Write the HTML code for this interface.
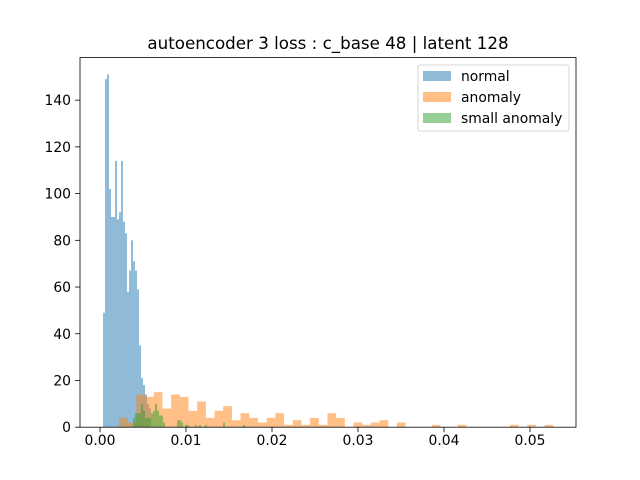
<!DOCTYPE html>
<html><head><meta charset="utf-8"><style>body{margin:0;background:#fff}svg{display:block}text{font-family:"DejaVu Sans","Liberation Sans",sans-serif}</style></head>
<body>
<svg id="c" width="640" height="480" xmlns="http://www.w3.org/2000/svg"></svg>
<script>
const normalStart = 0.00035, normalWidth = 0.0002326;
const normalCounts = [49,149,151,102,90,90,114,89,92,114,88,83,58,67,80,71,67,59,35,21,18,14,10,8];
const anomalyStart = 0.00221, anomalyWidth = 0.00101;
const anomalyCounts = [4,2,14,13,15,8,14,13,7,11,4,7,9,3,6,4,2,4,6,1,3,1,4,1,6,4,0,2,1,2,3,0,2,0,0,0,1,0,0,1,0,0,0,0,0,1,0,1,0,1];
const smallStart = 0.00384, smallWidth = 0.0002326;
const smallCounts = [4,6,6,6,10,7,4,4,4,6,7,10,7,5,5,2,0,0,0,0,0,0,3,3,2,0,1,1,0,0,0,1,0,1,0,0,1,0,0,0,0,0,0,0,0,2,0,0,0,0,0,0,0,0,0,1];
const xTicks = [0,0.01,0.02,0.03,0.04,0.05];
const xTickLabels = ["0.00","0.01","0.02","0.03","0.04","0.05"];
const yTicks = [0,20,40,60,80,100,120,140];
const legendLabels = ["normal","anomaly","small anomaly"];

const svg = document.getElementById('c');
const NS = 'http://www.w3.org/2000/svg';
const L=80,R=576,T=57.6,B=427.2;
const xs = v => 100 + v*8600;
const ys = v => B - v*2.336;
function mk(tag, attrs, parent){const e=document.createElementNS(NS,tag);for(const k in attrs)e.setAttribute(k,attrs[k]);(parent||svg).appendChild(e);return e;}

function drawHist(start,width,counts,color,name){
  const g=mk('g',{});
  
  
  counts.forEach((c,i)=>{ if(!c) return;
    const x0=xs(start+i*width), x1=xs(start+(i+1)*width);
    const r=mk('rect',{x:x0,y:ys(c),width:x1-x0,height:B-ys(c),fill:color,'fill-opacity':0.5},g);
    
    
  });
}
drawHist(normalStart,normalWidth,normalCounts,'#1f77b4','normal');
drawHist(anomalyStart,anomalyWidth,anomalyCounts,'#ff7f0e','anomaly');
drawHist(smallStart,smallWidth,smallCounts,'#2ca02c','small-anomaly');

const frame=mk('rect',{x:L,y:T,width:R-L,height:B-T,fill:'none',stroke:'#000','stroke-width':0.8});



xTicks.forEach((v,i)=>{
  mk('line',{x1:xs(v),x2:xs(v),y1:B,y2:B+4.9,stroke:'#000','stroke-width':0.8});
  const t=mk('text',{x:xs(v),y:B+18,'font-size':13.9,'text-anchor':'middle'});
  t.textContent=xTickLabels[i];
  
  
});
yTicks.forEach(v=>{
  mk('line',{x1:L-4.9,x2:L,y1:ys(v),y2:ys(v),stroke:'#000','stroke-width':0.8});
  const t=mk('text',{x:L-9,y:ys(v)+5,'font-size':13.9,'text-anchor':'end'});
  t.textContent=String(v);
  
  
});
const title=mk('text',{x:328,y:49,'font-size':16.7,'text-anchor':'middle'});
title.textContent='autoencoder 3 loss : c_base 48 | latent 128';



const lg=mk('g',{});


mk('rect',{x:418,y:65,width:151,height:66,rx:2,fill:'#fff','fill-opacity':0.8,stroke:'#ccc','stroke-width':0.8},lg);
const colors=['#1f77b4','#ff7f0e','#2ca02c'];
legendLabels.forEach((s,i)=>{
  const y=76+i*21;
  const p=mk('rect',{x:423,y:y-5,width:28,height:10,fill:colors[i],'fill-opacity':0.5},lg);
  
  
  const t=mk('text',{x:461,y:y+5,'font-size':13.9},lg);
  t.textContent=s;
  
  
});
</script>
</body></html>
